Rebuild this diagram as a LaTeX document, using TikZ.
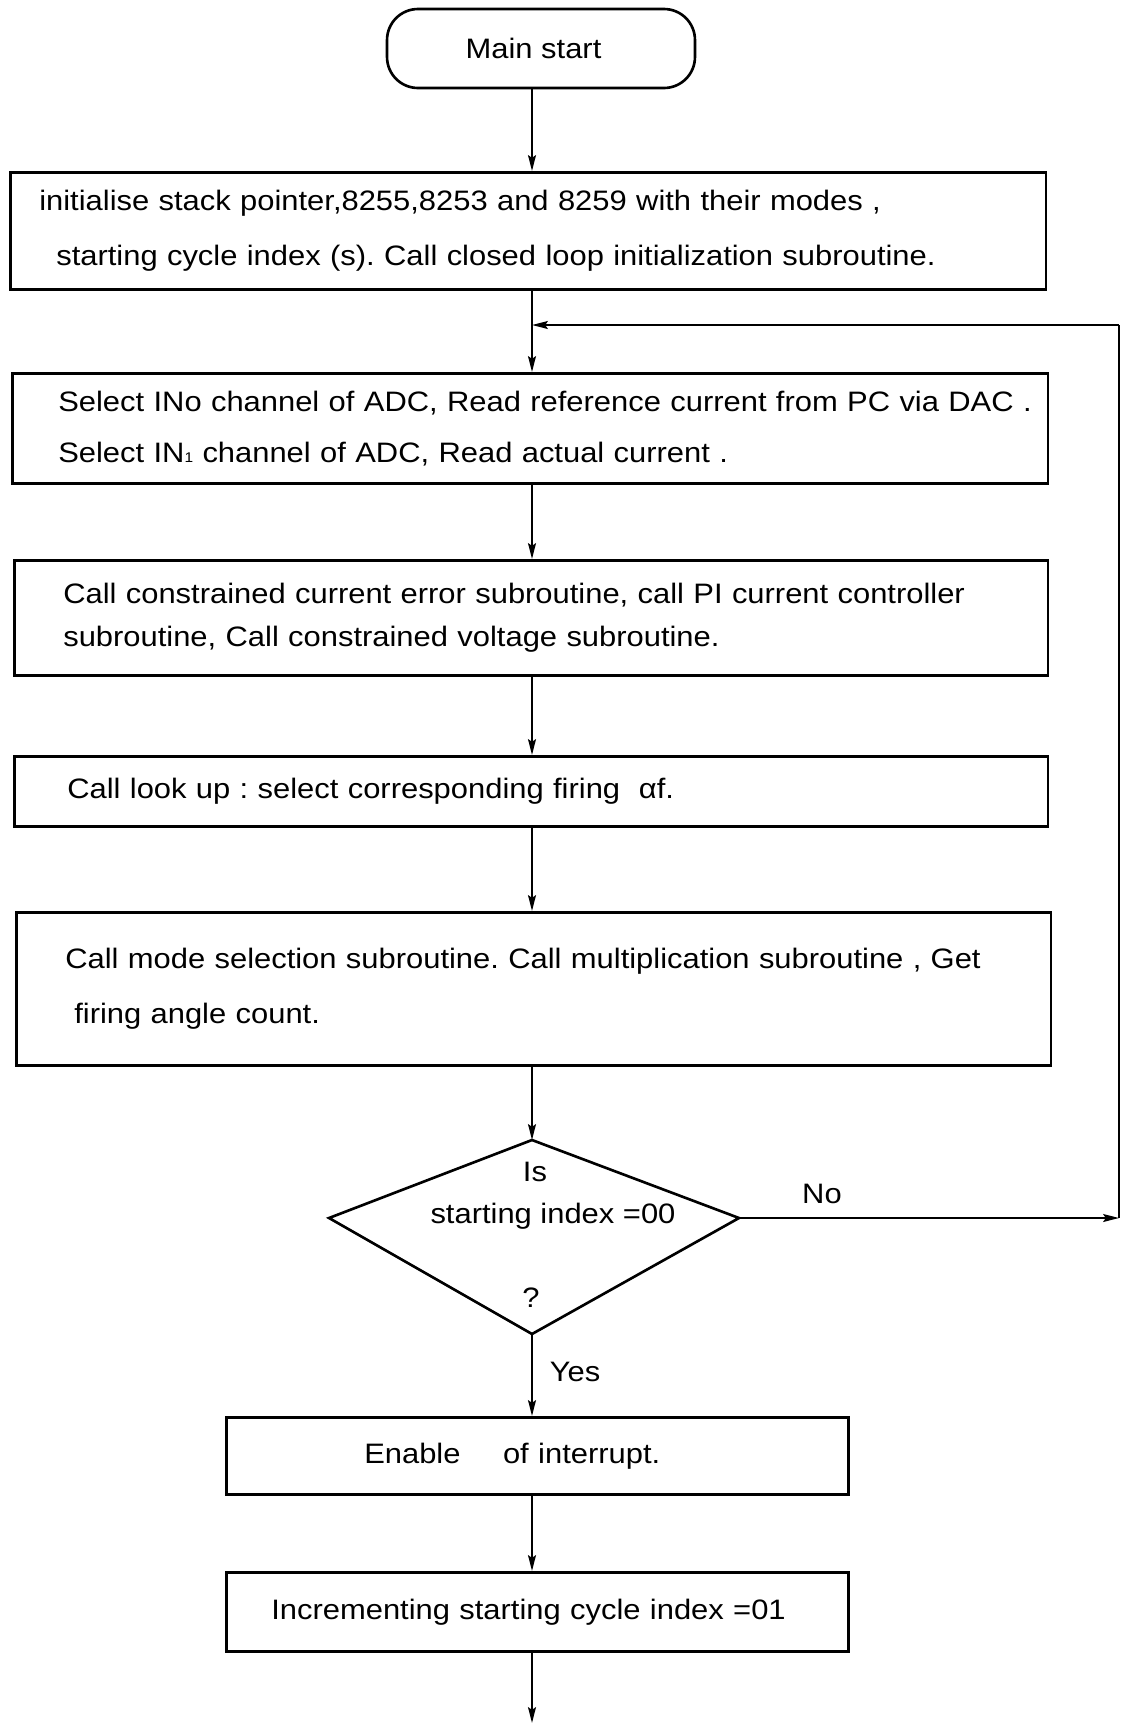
\documentclass[tikz,border=0pt]{standalone}
\usepackage{fontspec}
\setmainfont[FakeStretch=1.1]{Liberation Sans}
\usetikzlibrary{arrows.meta}
\frenchspacing
\begin{document}
\begin{tikzpicture}[x=0.02cm,y=-0.02cm,
  every node/.style={font=\fontsize{16}{31}\selectfont},
  procbox/.style={draw, line width=1.5pt, inner xsep=0pt, inner ysep=0pt, align=left, anchor=north west},
  termbox/.style={draw, line width=1.5pt, rounded corners=0.62cm, minimum width=6.16cm, minimum height=1.58cm},
  flow/.style={line width=1.1pt, -{Stealth[length=9pt,width=4.5pt,inset=1.5pt]}},
  plain/.style={line width=1.1pt},
  lbl/.style={inner sep=0pt}]
\useasboundingbox (0,0) rectangle (1122,1725);

% main axis of the flow
\coordinate (ax) at (532,0);

% start terminal
\node[termbox] (start) at (541,48.5) {Main start\hspace*{0.3cm}};

% process boxes
\node[procbox, text width=20.72cm, minimum height=2.34cm] (init) at (9,171)
  {\hspace*{0.58cm}\mbox{initialise stack pointer,8255,8253 and 8259 with their modes ,}\\
   \hspace*{0.92cm}\mbox{starting cycle index (s). Call closed loop initialization subroutine.}};

\node[procbox, text width=20.72cm, minimum height=2.2cm, font=\fontsize{16}{29}\selectfont] (read) at (11,372)
  {\hspace*{0.92cm}\mbox{Select INo channel of ADC, Read reference current from PC via DAC .}\\
   \hspace*{0.92cm}\mbox{Select IN{\footnotesize 1} channel of ADC, Read actual current .}};

\node[procbox, text width=20.68cm, minimum height=2.3cm, font=\fontsize{16}{24.5}\selectfont] (ctrl) at (13,559)
  {\hspace*{0.98cm}\mbox{Call constrained current error subroutine, call PI current controller}\\
   \hspace*{0.98cm}\mbox{subroutine, Call constrained voltage subroutine.}};

\node[procbox, text width=20.68cm, minimum height=1.4cm] (look) at (13,755)
  {\hspace*{1.06cm}\mbox{Call look up : select corresponding firing \ αf.}};

\node[procbox, text width=20.7cm, minimum height=3.06cm] (mode) at (15,911)
  {\hspace*{0.98cm}\mbox{Call mode selection subroutine. Call multiplication subroutine , Get}\\
   \hspace*{1.16cm}\mbox{firing angle count.}};

% decision
\coordinate (dT) at (532,1140);
\coordinate (dR) at (739,1218);
\coordinate (dB) at (532,1334);
\coordinate (dL) at (329,1218);
\draw[line width=1.5pt] (dT) -- (dR) -- (dB) -- (dL) -- cycle;
\node[lbl] (qis) at (535,1172) {Is};
\node[lbl] (qtxt) at (553,1216) {starting index =00};
\node[lbl] (qmark) at (531,1298) {?};

\node[procbox, text width=12.44cm, minimum height=1.54cm] (intr) at (225,1416)
  {\hspace*{2.76cm}Enable\hspace{0.85cm}of interrupt.};

\node[procbox, text width=12.44cm, minimum height=1.58cm] (incr) at (225,1571)
  {\hspace*{0.9cm}Incrementing starting cycle index =01};

% connectors
\draw[flow] (start.south -| ax) -- (init.north -| ax);
\draw[flow] (init.south -| ax) -- (read.north -| ax);
\draw[flow] (read.south -| ax) -- (ctrl.north -| ax);
\draw[flow] (ctrl.south -| ax) -- (look.north -| ax);
\draw[flow] (look.south -| ax) -- (mode.north -| ax);
\draw[flow] (mode.south -| ax) -- (dT);
\draw[flow] (dB) -- (intr.north -| ax);
\draw[flow] (intr.south -| ax) -- (incr.north -| ax);
\coordinate (exit) at (532,1723);
\draw[flow] (incr.south -| ax) -- (exit);

% loop back when the index is not zero
\coordinate (rb) at (1119,1218);
\coordinate (rt) at (1119,325);
\coordinate (jn) at (532,325);
\draw[flow] (dR) -- (rb);
\draw[line width=1.5pt] (rb) -- (rt);
\draw[flow] (rt) -- (jn);

\node[lbl] (no) at (822,1194) {No};
\node[lbl] (yes) at (575,1372) {Yes};
\end{tikzpicture}
\end{document}
